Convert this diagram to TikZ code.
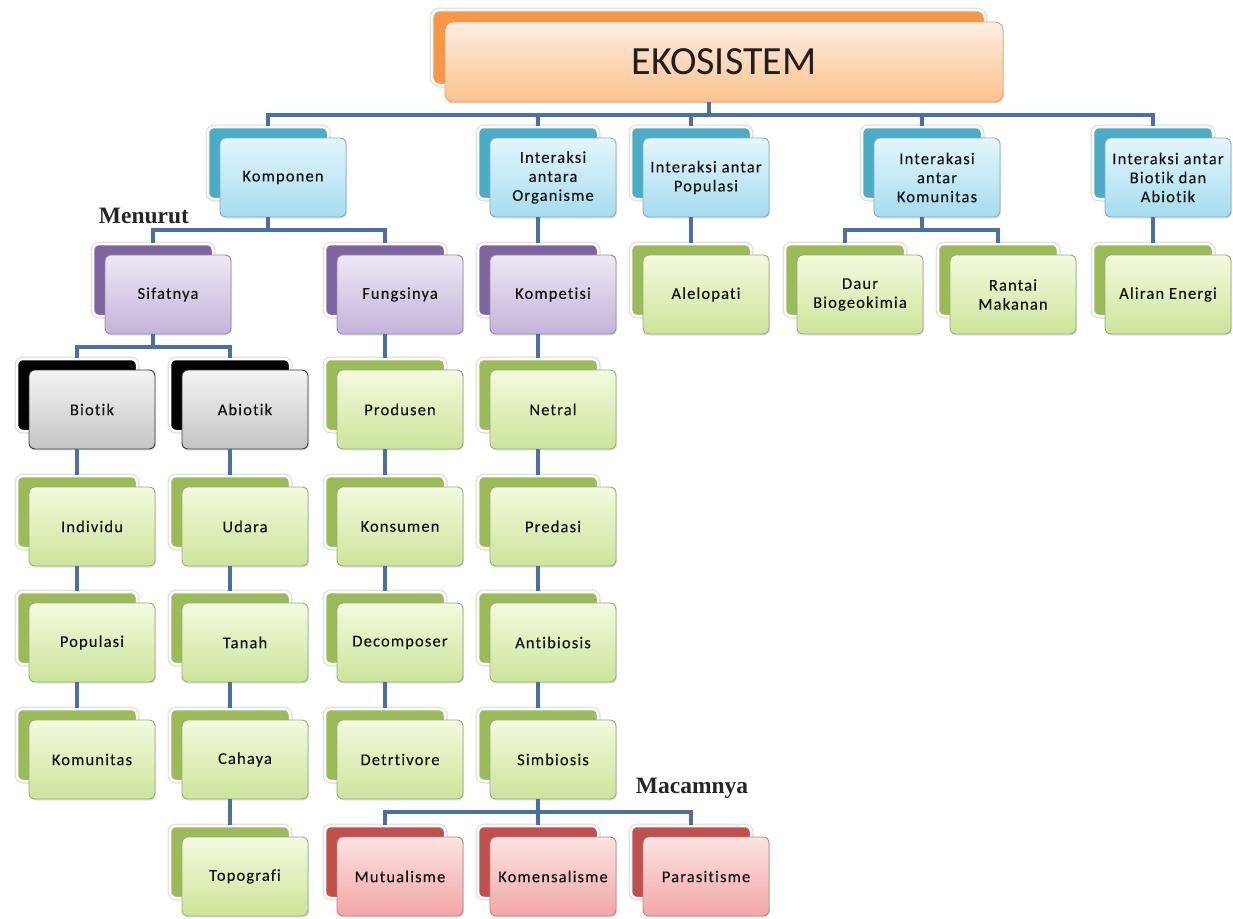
\documentclass[tikz,border=0pt]{standalone}
\usepackage{fontspec}
\setmainfont{Carlito}
\newfontfamily\boxfont[LetterSpace=7,Ligatures=NoCommon,FakeBold=0.3]{Carlito}
\newfontfamily\ekofont[Ligatures=NoCommon]{Carlito}
\newfontfamily\lblfont{Liberation Serif}
\usetikzlibrary{shadows}
\definecolor{blueback}{HTML}{4BACC6}\definecolor{bluetop}{HTML}{E4F6FC}\definecolor{bluebot}{HTML}{A5DCEF}\definecolor{blueline}{HTML}{86AEBE}
\definecolor{purpleback}{HTML}{8064A2}\definecolor{purpletop}{HTML}{EEE8F4}\definecolor{purplebot}{HTML}{C5B3DA}\definecolor{purpleline}{HTML}{978AAB}
\definecolor{greenback}{HTML}{9BBB59}\definecolor{greentop}{HTML}{F3FADF}\definecolor{greenbot}{HTML}{CDE49A}\definecolor{greenline}{HTML}{9AAC78}
\definecolor{greyback}{HTML}{000000}\definecolor{greytop}{HTML}{F4F4F4}\definecolor{greybot}{HTML}{C4C4C4}\definecolor{greyline}{HTML}{3A3A3A}
\definecolor{redback}{HTML}{C0504D}\definecolor{redtop}{HTML}{FCE3E3}\definecolor{redbot}{HTML}{F2A6A5}\definecolor{redline}{HTML}{B08888}
\definecolor{orangeback}{HTML}{F79646}\definecolor{orangetop}{HTML}{FEEDE0}\definecolor{orangebot}{HTML}{FAC28F}\definecolor{orangeline}{HTML}{D6A57A}
\definecolor{conncol}{HTML}{4A6FA8}
\tikzset{
  backbox/.style={rectangle, rounded corners=6pt, minimum width=120pt, minimum height=72pt, inner sep=0pt,
    fill=#1back, draw=white, line width=2.5pt,
    preaction={draw=black!13, line width=5pt}},
  frontbox/.style={rectangle, rounded corners=6pt, minimum width=126pt, minimum height=79pt, inner sep=2pt,
    top color=#1top, bottom color=#1bot, draw=#1line, line width=0.9pt, align=center, text=black!92,
    font=\boxfont\fontsize{16.5}{19}\selectfont,
    drop shadow={shadow xshift=1pt, shadow yshift=-1.5pt, opacity=0.22}},
  conn/.style={draw=conncol, line width=4pt},
  lbl/.style={font=\lblfont\bfseries\fontsize{23.5}{24}\selectfont, text=black!85, inner sep=0pt},
}
\newcommand\stk[5]{%
  \node[backbox=#2] (#1-b) at ({#3+60},{#4+25}) {};
  \node[frontbox=#2] (#1) at ({#3+75},{#4+39.5}) {#5};
}
\begin{document}
\begin{tikzpicture}[x=1pt,y=-1pt]
\fill[white] (0,0) rectangle (1233,918);
\useasboundingbox (0,0) rectangle (1233,918);
% top
\node[backbox=orange, minimum width=553pt, minimum height=75pt, rounded corners=8pt] (eko-b) at (708.5,47.5) {};
\node[frontbox=orange, minimum width=558pt, minimum height=80pt, rounded corners=8pt, font=\ekofont\fontsize{40}{40}\selectfont, text=black!88] (eko) at (724,62) {EKOSISTEM};
% row blue
\stk{komp}{blue}{208}{138}{Komponen}
\stk{org}{blue}{478}{138}{Interaksi\\antara\\Organisme}
\stk{pop}{blue}{631}{138}{Interaksi antar\\Populasi}
\stk{kmt}{blue}{862}{138}{Interakasi\\antar\\Komunitas}
\stk{ba}{blue}{1093}{138}{Interaksi antar\\Biotik dan\\Abiotik}
% row 255
\stk{sif}{purple}{93}{255}{Sifatnya}
\stk{fung}{purple}{325}{255}{Fungsinya}
\stk{kompt}{purple}{478}{255}{Kompetisi}
\stk{alel}{green}{631}{255}{Alelopati}
\stk{daur}{green}{785}{255}{Daur\\Biogeokimia}
\stk{rant}{green}{938}{255}{Rantai\\Makanan}
\stk{alir}{green}{1093}{255}{Aliran Energi}
% row 370
\stk{bio}{grey}{17}{370}{Biotik}
\stk{abio}{grey}{170}{370}{Abiotik}
\stk{prod}{green}{325}{370}{Produsen}
\stk{netr}{green}{478}{370}{Netral}
% row 487
\stk{ind}{green}{17}{487}{Individu}
\stk{uda}{green}{170}{487}{Udara}
\stk{kons}{green}{325}{487}{Konsumen}
\stk{pred}{green}{478}{487}{Predasi}
% row 603
\stk{popu}{green}{17}{603}{Populasi}
\stk{tan}{green}{170}{603}{Tanah}
\stk{deco}{green}{325}{603}{Decomposer}
\stk{anti}{green}{478}{603}{Antibiosis}
% row 720
\stk{kmn}{green}{17}{720}{Komunitas}
\stk{cah}{green}{170}{720}{Cahaya}
\stk{detr}{green}{325}{720}{Detrtivore}
\stk{simb}{green}{478}{720}{Simbiosis}
% row 837
\stk{topo}{green}{170}{837}{Topografi}
\stk{mut}{red}{325}{837}{Mutualisme}
\stk{kom}{red}{478}{837}{Komensalisme}
\stk{par}{red}{631}{837}{Parasitisme}
% labels
\node[lbl] (menurut) at (144,216) {Menurut};
\node[lbl] (macam) at (692,788) {Macamnya};
% connectors: buses
\foreach \c in {komp,org,pop,kmt,ba} \draw[conn] (eko-b |- eko.south) -- ++(0,13) -| (\c-b.north);
\foreach \c in {sif,fung} \draw[conn] (komp-b |- komp.south) -- ++(0,13) -| (\c-b.north);
\foreach \c in {bio,abio} \draw[conn] (sif-b |- sif.south) -- ++(0,13) -| (\c-b.north);
\foreach \c in {daur,rant} \draw[conn] (kmt-b |- kmt.south) -- ++(0,13) -| (\c-b.north);
\foreach \c in {mut,kom,par} \draw[conn] (simb-b |- simb.south) -- ++(0,13) -| (\c-b.north);
% connectors: chains
\foreach \a/\b in {org/kompt, pop/alel, ba/alir, fung/prod, prod/kons, kons/deco, deco/detr,
  kompt/netr, netr/pred, pred/anti, anti/simb, bio/ind, ind/popu, popu/kmn,
  abio/uda, uda/tan, tan/cah, cah/topo}
  \draw[conn] (\a-b |- \a.south) -- (\b-b.north);
\end{tikzpicture}
\end{document}
